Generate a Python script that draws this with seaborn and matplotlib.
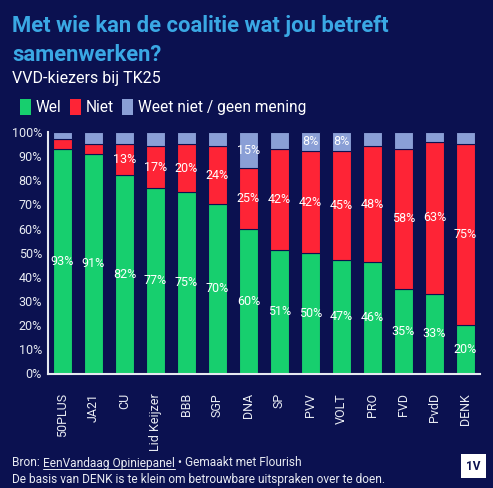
import matplotlib
matplotlib.use("Agg")
import matplotlib.pyplot as plt
from matplotlib.patches import Patch
import pandas as pd
import seaborn as sns

# data (percent of VVD voters)
parties = ["50PLUS", "JA21", "CU", "Lid Keijzer", "BBB", "SGP", "DNA",
           "SP", "PVV", "VOLT", "PRO", "FVD", "PvdD", "DENK"]
wel = [93, 91, 82, 77, 75, 70, 60, 51, 50, 47, 46, 35, 33, 20]
niet = [4, 4, 13, 17, 20, 24, 25, 42, 42, 45, 48, 58, 63, 75]
weet_niet = [3, 5, 5, 6, 5, 6, 15, 7, 8, 8, 6, 7, 4, 5]
series_names = ["Wel", "Niet", "Weet niet / geen mening"]

BG = "#0b1150"
GREEN = "#17cf6e"
RED = "#fe2436"
BLUE = "#8a9fd6"
TXT = "#e8ebf2"

sns.set_style("white")
plt.rcParams["font.family"] = ["Roboto", "DejaVu Sans"]

df = pd.DataFrame({"party": parties, "wel": wel, "niet": niet, "weet": weet_niet})
df["bottom_niet"] = df["wel"]
df["bottom_weet"] = df["wel"] + df["niet"]

W, H = 493, 488
fig = plt.figure(figsize=(W / 100, H / 100), dpi=100, facecolor=BG)
ax = fig.add_axes([47.5 / W, (H - 373.5) / H, (480 - 47.5) / W, (373.5 - 132) / H])
ax.set_facecolor(BG)

bw = 0.62
sns.barplot(data=df, x="party", y="wel", color=GREEN, saturation=1, width=bw,
            edgecolor=BG, linewidth=0.8, ax=ax)
sns.barplot(data=df, x="party", y="niet", bottom=df["bottom_niet"], color=RED,
            saturation=1, width=bw, edgecolor=BG, linewidth=0.8, ax=ax)
sns.barplot(data=df, x="party", y="weet", bottom=df["bottom_weet"], color=BLUE,
            saturation=1, width=bw, edgecolor=BG, linewidth=0.8, ax=ax)

# segment labels, only where the segment is large enough
for cont, vals in zip(ax.containers, [wel, niet, weet_niet]):
    labels = [f"{v}%" if v >= 8 else "" for v in vals]
    ax.bar_label(cont, labels=labels, label_type="center", color="white",
                 fontsize=9)

ax.set_xlim(-0.48, 13.47)
ax.set_ylim(0, 100)
ax.set_yticks(range(0, 101, 10))
ax.set_yticklabels([f"{v}%" for v in range(0, 101, 10)])
ax.set_xlabel("")
ax.set_ylabel("")
ax.tick_params(axis="y", length=0, pad=4, labelcolor=TXT, labelsize=9)
ax.tick_params(axis="x", length=0, pad=14, labelcolor=TXT, labelsize=9,
               rotation=90)
for s in ["top", "right"]:
    ax.spines[s].set_visible(False)
for s in ["left", "bottom"]:
    ax.spines[s].set_color("#e6e9f0")
    ax.spines[s].set_linewidth(1.5)

# titles
fig.text(12 / W, 1 - 26 / H, "Met wie kan de coalitie wat jou betreft",
         color="#3aa8e4", fontsize=15.8, fontweight="bold", va="center")
fig.text(12 / W, 1 - 55 / H, "samenwerken?", color="#3aa8e4", fontsize=15.8,
         fontweight="bold", va="center")
fig.text(12 / W, 1 - 78 / H, "VVD-kiezers bij TK25", color="white",
         fontsize=11.5, va="center")

handles = [Patch(facecolor=c, edgecolor="none") for c in [GREEN, RED, BLUE]]
fig.legend(handles, series_names, loc="center left",
           bbox_to_anchor=(6 / W, 1 - 107 / H), ncol=3, frameon=False,
           fontsize=11.2, labelcolor="white", handlelength=0.7,
           handleheight=1.3, handletextpad=0.3, columnspacing=0.55)

# footer
fig.canvas.draw()
rend = fig.canvas.get_renderer()
fs = 8.6
y1 = 1 - 463 / H
t1 = fig.text(12 / W, y1, "Bron: ", color=TXT, fontsize=fs, va="center")
x = t1.get_window_extent(rend).x1 / W
t2 = fig.text(x, y1, "EenVandaag Opiniepanel", color=TXT, fontsize=fs,
              va="center")
bb = t2.get_window_extent(rend)
fig.add_artist(plt.Line2D([bb.x0 / W, bb.x1 / W], [(bb.y0 + 1) / H] * 2,
                          color=TXT, lw=0.7, transform=fig.transFigure))
fig.text(bb.x1 / W, y1, " \u2022 Gemaakt met Flourish", color=TXT,
         fontsize=fs, va="center")
fig.text(12 / W, 1 - 479 / H,
         "De basis van DENK is te klein om betrouwbare uitspraken over te doen.",
         color=TXT, fontsize=fs, va="center")
fig.text(473 / W, 1 - 466 / H, "1V", color=BG, fontsize=8.5,
         fontweight="bold", ha="center", va="center",
         bbox=dict(boxstyle="square,pad=0.45", facecolor="white",
                   edgecolor="none"))

fig.savefig("out.png", dpi=100, facecolor=BG)
